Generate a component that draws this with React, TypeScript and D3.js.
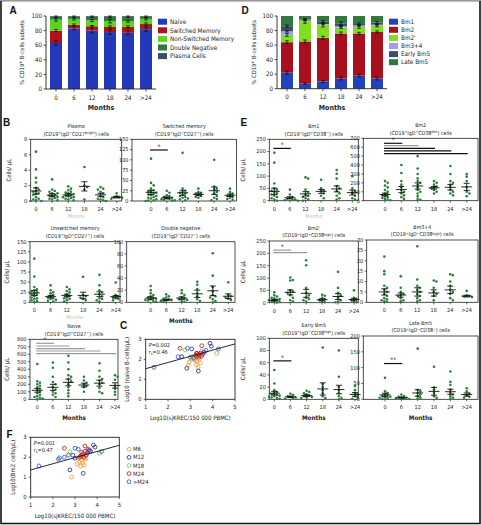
import React from 'react';
import * as d3 from 'd3';

const FONT = "'Liberation Sans Narrow','DejaVu Sans Condensed','Arial Narrow',sans-serif";
const MONTHS = ['0', '6', '12', '18', '24', '>24'];

// ---------- Panel A ----------
const A_SERIES = ['Naive', 'Switched Memory', 'Non-Switched Memory', 'Double Negative', 'Plasma Cells'];
const A_COLORS = ['#2339b7', '#b0121f', '#5fd41c', '#2e7a3a', '#3b4d6f'];
const A_NAIVE = [63, 83, 80, 78, 77, 82];
const A_SWITCHED = [17, 5, 6, 7, 8, 7];
const A_NONSWITCHED = [15, 8, 8, 8, 8, 7];
const A_DOUBLENEG = [4, 3, 5, 6, 6, 3];
const A_PLASMA = [1, 1, 1, 1, 1, 1];
const A_SEM = [
  [3, 2, 3, 3, 3, 3],
  [1.5, 1, 1, 1.5, 1.5, 1.5],
  [2, 1.5, 1.5, 2.5, 1.5, 1.5],
  [1, 1, 1, 1, 1, 1],
];

// ---------- Panel D ----------
const D_SERIES = ['Bm1', 'Bm2', "Bm2'", 'Bm3+4', 'Early Bm5', 'Late Bm5'];
const D_COLORS = ['#2241bd', '#a8101f', '#7fdf1e', '#9c9ff0', '#3c4e6e', '#2f7a3c'];
const D_BM1 = [22, 7, 10, 14, 18, 14];
const D_BM2 = [42, 58, 60, 62, 58, 64];
const D_BM2P = [10, 28, 18, 8, 9, 9];
const D_BM34 = [5, 1, 1, 2, 2, 1];
const D_EARLY = [7, 1, 3, 4, 2, 3];
const D_LATE = [14, 5, 8, 10, 11, 9];
const D_SEM = [
  [2, 1, 1.5, 2, 2, 2],
  [2, 2, 2, 2, 1.5, 1.5],
  [2, 3, 3, 1.5, 2, 2],
  [1, 0.5, 0.5, 1, 1, 0.5],
  [1.5, 1, 1.5, 2, 1.5, 1.5],
];

// ---------- Panel B ----------
const PLASMA_PTS = [
  [6.4, 4.1, 3.0, 2.4, 1.7, 1.5, 1.3, 1.2, 1.0, 0.9, 0.8, 0.5, 0.3, 0.2, 0.1, 0.0, 0.0],
  [2.8, 1.5, 1.3, 1.2, 1.0, 1.0, 0.8, 0.7, 0.6, 0.5, 0.4, 0.3, 0.2, 0.1],
  [1.9, 1.6, 1.4, 1.2, 1.1, 1.0, 0.9, 0.8, 0.7, 0.6, 0.5, 0.5, 0.4, 0.3, 0.2, 0.1],
  [4.4, 2.0, 1.8, 1.5, 0.2],
  [1.8, 1.6, 1.5, 1.2, 1.0, 0.6, 0.5, 0.3, 0.2, 0.1, 0.0],
  [1.0, 0.6, 0.5, 0.5, 0.4, 0.3],
];
const PLASMA_MEAN = [1.3, 0.75, 0.8, 1.9, 0.8, 0.5];
const PLASMA_SEM = [0.4, 0.2, 0.15, 0.6, 0.2, 0.1];

const SWITCHED_PTS = [
  [103, 44, 38, 30, 26, 24, 22, 20, 18, 16, 14, 12, 10, 8, 6, 4, 2, 1, 0],
  [25, 20, 14, 12, 10, 8, 6, 5, 4, 3, 2, 1],
  [117, 30, 25, 22, 20, 18, 15, 12, 10, 8, 6, 4, 2],
  [30, 22, 20, 18, 15, 12, 10, 8],
  [100, 35, 30, 28, 22, 18, 12, 8, 5, 2],
  [30, 22, 18, 15, 12, 10, 8, 5, 3],
];
const SWITCHED_MEAN = [21, 8, 20, 16, 25, 14];
const SWITCHED_SEM = [5, 2, 6, 3, 9, 3];

const UNSWITCHED_PTS = [
  [108, 64, 38, 32, 30, 28, 25, 22, 20, 18, 15, 12, 10, 8, 5, 3, 1],
  [42, 30, 25, 22, 18, 15, 12, 10, 8, 6, 4, 2],
  [38, 32, 28, 25, 20, 15, 12, 10, 8, 5, 2],
  [63, 18, 15, 12, 8, 5],
  [68, 42, 30, 25, 20, 15, 10, 8, 5, 2],
  [49, 18, 15, 12, 10, 8, 5],
];
const UNSWITCHED_MEAN = [23, 14, 17, 17, 20, 14];
const UNSWITCHED_SEM = [6, 3, 3, 8, 6, 3];

const DOUBLENEG_PTS = [
  [27, 20, 15, 12, 10, 8, 7, 6, 5, 4, 3, 2, 1],
  [13, 10, 8, 6, 5, 4, 3, 2, 1],
  [20, 15, 12, 8, 6, 5, 4, 2, 1],
  [34, 29, 22, 15, 10, 5, 2],
  [81, 44, 25, 18, 12, 10, 8, 5, 2, 0],
  [33, 12, 10, 8, 6, 4],
];
const DOUBLENEG_MEAN = [7, 4, 7, 14, 19, 10];
const DOUBLENEG_SEM = [2, 1, 2, 6, 8, 4];

const NAIVE_PTS = [
  [470, 240, 220, 200, 180, 160, 140, 120, 100, 80, 60, 40, 30, 20, 10, 0],
  [490, 420, 300, 230, 200, 160, 130, 100, 80, 60, 30],
  [580, 490, 400, 320, 300, 270, 240, 200, 160, 120, 80, 40],
  [300, 250, 220, 200, 180, 160, 100],
  [480, 380, 300, 270, 250, 220, 200, 150, 100, 80],
  [320, 300, 260, 180, 140, 100, 60],
];
const NAIVE_MEAN = [120, 160, 225, 190, 215, 185];
const NAIVE_SEM = [25, 40, 45, 25, 40, 35];

// ---------- Panel E ----------
const BM1_PTS = [
  [195, 155, 70, 50, 45, 40, 35, 30, 25, 20, 15, 10, 5, 0],
  [45, 25, 15, 10, 8, 5, 3, 2, 0],
  [95, 90, 45, 35, 25, 20, 15, 10, 5, 0],
  [85, 50, 42, 38, 30, 20, 10],
  [125, 110, 90, 60, 50, 40, 30, 20, 10, 5],
  [100, 50, 40, 30, 20, 10, 5],
];
const BM1_MEAN = [38, 12, 28, 38, 48, 33];
const BM1_SEM = [13, 4, 9, 8, 12, 10];

const BM2_PTS = [
  [220, 200, 170, 150, 120, 100, 80, 70, 60, 50, 40, 30, 20, 10, 5],
  [400, 310, 220, 180, 150, 120, 100, 80, 60, 40, 20],
  [500, 360, 300, 250, 220, 200, 180, 150, 120, 100, 80, 50, 20, 10],
  [220, 200, 180, 160, 150, 140, 120, 100, 80],
  [390, 300, 220, 200, 180, 150, 120, 100, 80, 60],
  [300, 270, 220, 150, 100, 80, 50],
];
const BM2_MEAN = [70, 125, 165, 145, 150, 155];
const BM2_SEM = [15, 35, 35, 15, 30, 40];

const BM2P_PTS = [
  [42, 30, 25, 20, 18, 15, 12, 10, 8, 5, 3, 1],
  [102, 92, 90, 50, 45, 40, 30, 20, 10, 5],
  [172, 152, 60, 40, 30, 20, 15, 10, 5],
  [32, 28, 20, 15, 10, 5, 2],
  [125, 60, 40, 30, 20, 10, 5, 2],
  [50, 20, 15, 10, 5, 2],
];
const BM2P_MEAN = [10, 42, 38, 12, 25, 13];
const BM2P_SEM = [3, 10, 16, 4, 12, 5];

const BM34_PTS = [
  [22, 15, 13.5, 8, 7, 6, 5, 4, 3, 2, 1.5, 1, 0.5, 0.2],
  [12.5, 7, 5, 4, 3.5, 3, 2, 1, 0.5],
  [27, 11, 8, 7, 6, 5, 4, 3, 2, 1, 0.5],
  [10.5, 10, 7, 5, 4, 3, 1],
  [13.5, 13, 10, 8, 6, 5, 4, 2, 1],
  [5.5, 3.2, 3, 2.8, 2.5],
];
const BM34_MEAN = [5, 3.5, 5, 4.5, 6, 3];
const BM34_SEM = [1.5, 1, 2, 1.5, 1.8, 0.4];

const EARLY_PTS = [
  [48, 26, 15, 12, 10, 8, 7, 6, 5, 4, 3, 2, 1],
  [9, 7, 5, 4, 3, 2, 1],
  [14, 12, 10, 8, 6, 5, 4, 3, 2],
  [85, 25, 20, 15, 10, 5, 2],
  [80, 37, 20, 15, 10, 5, 2, 0],
  [22, 15, 10, 8, 5, 3, 1],
];
const EARLY_MEAN = [10, 4, 6, 17, 16, 8];
const EARLY_SEM = [3, 1, 1.5, 10, 7, 3];

const LATE_PTS = [
  [68, 25, 20, 15, 12, 10, 8, 6, 5, 3, 1],
  [15, 10, 8, 6, 5, 3, 2, 1],
  [160, 30, 25, 20, 15, 10, 5, 2],
  [103, 38, 30, 20, 10, 5],
  [88, 55, 45, 30, 20, 15, 10, 5, 2],
  [35, 25, 18, 12, 8, 5],
];
const LATE_MEAN = [14, 5, 20, 25, 24, 15];
const LATE_SEM = [5, 1.5, 10, 12, 8, 5];

// ---------- Panels C & F ----------
const GROUPS = ['M6', 'M12', 'M18', 'M24', '>M24'];
const GROUP_COLORS = ['#f0a23a', '#3a2f9c', '#7ccf4c', '#c3262d', '#3d5fd4'];
// [log10 sjKREC, log10 cells, group index]
const C_POINTS: [number, number, number][] = [
  [2.91, 1.71, 0], [3.29, 1.88, 0], [3.25, 1.75, 0], [3.1, 2.13, 0], [3.4, 2.0, 0], [3.35, 1.6, 0], [3.2, 1.95, 0], [3.45, 1.82, 0], [2.95, 1.85, 0],
  [2.61, 2.13, 1], [2.84, 1.55, 1], [3.36, 1.41, 1], [3.88, 2.8, 1], [3.94, 2.65, 1], [3.06, 2.52, 1], [3.3, 2.3, 1], [3.15, 2.05, 1],
  [2.76, 2.47, 2], [4.18, 2.3, 2], [3.06, 2.0, 2], [3.2, 2.15, 2], [3.5, 2.4, 2],
  [2.54, 2.55, 3], [3.51, 2.68, 3], [3.25, 2.2, 3], [3.3, 2.15, 3], [3.35, 2.25, 3], [3.4, 2.2, 3], [3.45, 2.3, 3], [3.5, 2.15, 3], [3.55, 2.25, 3], [3.38, 2.1, 3], [3.6, 2.35, 3], [3.28, 2.3, 3],
  [1.37, 1.6, 4], [2.87, 2.55, 4], [4.26, 2.52, 4], [3.7, 2.45, 4], [3.62, 2.35, 4], [2.45, 2.13, 4], [3.0, 2.1, 4],
];
const C_FIT = [1.22, 0.31];
const F_POINTS: [number, number, number][] = [
  [2.85, 1.0, 0], [3.1, 1.65, 0], [3.2, 1.75, 0], [3.3, 1.85, 0], [3.4, 1.6, 0], [3.45, 1.9, 0], [3.15, 1.95, 0], [3.35, 1.7, 0], [3.25, 1.55, 0], [3.5, 1.95, 0],
  [2.77, 1.36, 1], [3.83, 2.61, 1], [3.9, 2.5, 1], [3.0, 1.95, 1], [3.37, 1.19, 1], [2.9, 2.1, 1], [3.55, 2.2, 1], [3.65, 2.35, 1], [3.7, 2.3, 1],
  [2.77, 2.28, 2], [4.1, 2.2, 2], [3.45, 2.2, 2], [3.3, 2.0, 2],
  [2.52, 2.45, 3], [3.45, 2.56, 3], [3.6, 2.4, 3], [3.25, 2.05, 3], [3.3, 2.1, 3], [3.35, 2.15, 3], [3.4, 2.0, 3], [3.5, 2.1, 3], [3.45, 2.3, 3], [3.3, 2.25, 3], [3.2, 2.0, 3],
  [1.37, 1.56, 4], [2.52, 2.0, 4], [3.0, 2.45, 4], [4.2, 2.28, 4], [2.25, 1.9, 4], [2.3, 1.97, 4], [3.15, 2.4, 4], [3.6, 2.3, 4], [2.7, 2.1, 4],
];
const F_FIT = [1.05, 0.31];

const DOT = '#2d7d3d';

type Sig = { to: number; v: number; color: string; label?: string };

function swarm(vals: number[], y: (v: number) => number, cx: number, r: number) {
  const pts = vals.map((v) => y(v)).sort((a, b) => a - b);
  const placed: { x: number; y: number }[] = [];
  const d = r * 2.05;
  const offs = [0];
  for (let i = 1; i <= 4; i++) offs.push(i * d, -i * d);
  pts.forEach((py, k) => {
    let done = false;
    for (const o of offs) {
      const px = cx + o;
      if (placed.every((q) => (q.x - px) ** 2 + (q.y - py) ** 2 >= d * d * 0.9)) {
        placed.push({ x: px, y: py });
        done = true;
        break;
      }
    }
    if (!done) placed.push({ x: cx + offs[k % offs.length] * 0.5, y: py });
  });
  return placed;
}

function SupText({ x, y, parts, size }: { x: number; y: number; parts: string[]; size: number }) {
  return (
    <text x={x} y={y} textAnchor="middle" fontSize={size} fill="#222">
      {parts.map((p, i) =>
        i % 2 === 1 ? (
          <tspan key={i} dy={-size * 0.35} fontSize={size * 0.7}>{p}</tspan>
        ) : (
          <tspan key={i} dy={i === 0 ? 0 : size * 0.35}>{p}</tspan>
        )
      )}
    </text>
  );
}

function SmallPanel(props: {
  L: number; R: number; T: number; B: number; yMax: number; yStep: number;
  catL: number; catR: number; pts: number[][]; mean: number[]; sem: number[];
  name: string; sub: string[]; sigs?: Sig[]; ylabelX?: number; months?: 'bold' | 'faint';
}) {
  const { L, R, T, B, yMax, yStep, catL, catR, pts, mean, sem, name, sub, sigs, ylabelX, months } = props;
  const y = d3.scaleLinear().domain([0, yMax]).range([B, T]);
  const x = d3.scalePoint<string>().domain(MONTHS).range([catL, catR]);
  const ticks = d3.range(0, yMax + yStep / 2, yStep);
  const cx = (L + R) / 2;
  return (
    <g>
      <text x={cx} y={T - 11.5} textAnchor="middle" fontSize={5.3} fill="#222">{name}</text>
      <SupText x={cx} y={T - 3.6} parts={sub} size={5.3} />
      <rect x={L} y={T} width={R - L} height={B - T} fill="none" stroke="#222" strokeWidth={0.8} />
      {ticks.map((t) => (
        <g key={t}>
          <line x1={L - 2} x2={L} y1={y(t)} y2={y(t)} stroke="#222" strokeWidth={0.7} />
          <text x={L - 3.5} y={y(t) + 1.9} textAnchor="end" fontSize={5.5} fill="#222">{t}</text>
        </g>
      ))}
      {MONTHS.map((m) => (
        <g key={m}>
          <line x1={x(m)} x2={x(m)} y1={B} y2={B + 2} stroke="#222" strokeWidth={0.7} />
          <text x={x(m)} y={B + 10} textAnchor="middle" fontSize={5.5} fill="#222">{m}</text>
        </g>
      ))}
      {pts.map((vals, i) =>
        swarm(vals, y, x(MONTHS[i])!, 1.3).map((p, j) => (
          <circle key={i + '-' + j} cx={p.x} cy={p.y} r={1.3} fill={DOT} />
        ))
      )}
      {mean.map((m, i) => {
        const px = x(MONTHS[i])!;
        return (
          <g key={'m' + i} stroke="#111" strokeWidth={0.9}>
            <line x1={px - 5.5} x2={px + 5.5} y1={y(m)} y2={y(m)} />
            <line x1={px} x2={px} y1={y(m - sem[i])} y2={y(m + sem[i])} />
            <line x1={px - 3} x2={px + 3} y1={y(m - sem[i])} y2={y(m - sem[i])} />
            <line x1={px - 3} x2={px + 3} y1={y(m + sem[i])} y2={y(m + sem[i])} />
          </g>
        );
      })}
      {(sigs || []).map((s, i) => {
        const x0 = x(MONTHS[0])! - 1;
        const x1 = x(MONTHS[s.to])! + 1;
        return (
          <g key={'s' + i}>
            <line x1={x0} x2={x1} y1={y(s.v)} y2={y(s.v)} stroke={s.color} strokeWidth={1.2} />
            {s.label && (
              <text x={(x0 + x1) / 2} y={y(s.v) - 1.2} textAnchor="middle" fontSize={6.5} fill="#222">{s.label}</text>
            )}
          </g>
        );
      })}
      {ylabelX !== undefined && (
        <text transform={`translate(${ylabelX},${(T + B) / 2}) rotate(-90)`} textAnchor="middle" fontSize={6} fill="#222">Cells/ µL</text>
      )}
      {months === 'bold' && (
        <text x={cx} y={B + 21} textAnchor="middle" fontSize={6.3} fontWeight="bold" fill="#222">Months</text>
      )}
      {months === 'faint' && (
        <text x={cx} y={B + 17} textAnchor="middle" fontSize={5} fill="#bbb">Months</text>
      )}
    </g>
  );
}

function StackPanel(props: {
  L: number; R: number; T: number; B: number; series: number[][]; colors: string[]; names: string[];
  sem: number[][]; legX: number; legY: number; legStep: number; ylabelX: number;
}) {
  const { L, R, T, B, series, colors, names, sem, legX, legY, legStep, ylabelX } = props;
  const rows = MONTHS.map((m, i) => {
    const o: any = { m };
    series.forEach((s, k) => (o['s' + k] = s[i]));
    return o;
  });
  const keys = series.map((_, k) => 's' + k);
  const stacked = d3.stack().keys(keys)(rows);
  const x = d3.scaleBand().domain(MONTHS).range([L + 1, R - 1]).paddingInner(0.333).paddingOuter(0.1667);
  const y = d3.scaleLinear().domain([0, 100]).range([B, T]);
  const ticks = [0, 20, 40, 60, 80, 100];
  return (
    <g>
      {stacked.map((layer, k) => (
        <g key={k}>
          {layer.map((d, i) => (
            <rect key={i} x={x(MONTHS[i])} y={y(d[1])} width={x.bandwidth()} height={y(d[0]) - y(d[1])} fill={colors[k]} />
          ))}
        </g>
      ))}
      {stacked.slice(0, sem.length).map((layer, k) => (
        <g key={'e' + k} stroke="#111" strokeWidth={0.8}>
          {layer.map((d, i) => {
            const cx = x(MONTHS[i])! + x.bandwidth() / 2;
            const e = sem[k][i];
            return (
              <g key={i}>
                <line x1={cx} x2={cx} y1={y(d[1] - e)} y2={y(d[1] + e)} />
                <line x1={cx - 1.8} x2={cx + 1.8} y1={y(d[1] - e)} y2={y(d[1] - e)} />
                <line x1={cx - 1.8} x2={cx + 1.8} y1={y(d[1] + e)} y2={y(d[1] + e)} />
              </g>
            );
          })}
        </g>
      ))}
      <line x1={L} x2={L} y1={T} y2={B} stroke="#222" strokeWidth={0.9} />
      <line x1={L} x2={R} y1={B} y2={B} stroke="#222" strokeWidth={0.9} />
      {ticks.map((t) => (
        <g key={t}>
          <line x1={L - 2.5} x2={L} y1={y(t)} y2={y(t)} stroke="#222" strokeWidth={0.8} />
          <text x={L - 4} y={y(t) + 2.2} textAnchor="end" fontSize={6.2} fill="#222">{t}</text>
        </g>
      ))}
      {MONTHS.map((m) => (
        <g key={m}>
          <line x1={x(m)! + x.bandwidth() / 2} x2={x(m)! + x.bandwidth() / 2} y1={B} y2={B + 2.5} stroke="#222" strokeWidth={0.8} />
          <text x={x(m)! + x.bandwidth() / 2} y={B + 10.5} textAnchor="middle" fontSize={6.2} fill="#222">{m}</text>
        </g>
      ))}
      <text x={(L + R) / 2} y={B + 21} textAnchor="middle" fontSize={7} fontWeight="bold" fill="#222">Months</text>
      <text transform={`translate(${ylabelX},${(T + B) / 2}) rotate(-90)`} textAnchor="middle" fontSize={5.8} fill="#222">
        % CD19<tspan dy={-2} fontSize={4}>+</tspan><tspan dy={2}> B-cells subsets</tspan>
      </text>
      {names.map((n, k) => (
        <g key={n}>
          <rect x={legX} y={legY + k * legStep - 3} width={9} height={6} fill={colors[k]} />
          <text x={legX + 12} y={legY + k * legStep + 2.2} fontSize={6.3} fill="#222">{n}</text>
        </g>
      ))}
    </g>
  );
}

function CorrPanel(props: {
  L: number; R: number; T: number; B: number; points: [number, number, number][]; fit: number[];
  pText: string; rText: string; ylabel: string; xlabel: string; ylabelX: number;
}) {
  const { L, R, T, B, points, fit, pText, rText, ylabel, xlabel, ylabelX } = props;
  const x = d3.scaleLinear().domain([1, 5]).range([L, R]);
  const y = d3.scaleLinear().domain([0, 3]).range([B, T]);
  const line = d3.line<number>().x((v) => x(v)).y((v) => y(fit[0] + fit[1] * v));
  return (
    <g>
      <rect x={L} y={T} width={R - L} height={B - T} fill="none" stroke="#222" strokeWidth={0.9} />
      {[0, 1, 2, 3].map((t) => (
        <g key={t}>
          <line x1={L - 2} x2={L} y1={y(t)} y2={y(t)} stroke="#222" strokeWidth={0.7} />
          <text x={L - 4} y={y(t) + 2} textAnchor="end" fontSize={5.8} fill="#222">{t}</text>
        </g>
      ))}
      {[1, 2, 3, 4, 5].map((t) => (
        <g key={t}>
          <line x1={x(t)} x2={x(t)} y1={B} y2={B + 2} stroke="#222" strokeWidth={0.7} />
          <text x={x(t)} y={B + 10} textAnchor="middle" fontSize={5.8} fill="#222">{t}</text>
        </g>
      ))}
      {points.map((p, i) => (
        <circle key={i} cx={x(p[0])} cy={y(p[1])} r={1.9} fill="none" stroke={GROUP_COLORS[p[2]]} strokeWidth={0.9} />
      ))}
      <path d={line([1, 5]) || ''} stroke="#111" strokeWidth={0.9} fill="none" />
      <text x={L + 3} y={T + 7.5} fontSize={5.5} fill="#222"><tspan fontStyle="italic">P</tspan>{pText}</text>
      <text x={L + 3} y={T + 14.5} fontSize={5.5} fill="#222">r<tspan dy={1.2} fontSize={4}>s</tspan><tspan dy={-1.2}>{rText}</tspan></text>
      <text transform={`translate(${ylabelX},${(T + B) / 2}) rotate(-90)`} textAnchor="middle" fontSize={6} fill="#222">{ylabel}</text>
      <text x={(L + R) / 2} y={B + 21} textAnchor="middle" fontSize={6} fill="#222">{xlabel}</text>
    </g>
  );
}

export default function App() {
  return (
    <svg width={481} height={525} style={{ position: 'absolute', left: 0, top: 0, background: '#fff' }} fontFamily={FONT}>
      <rect x={0} y={0} width={481} height={525} fill="#fff" />
      <path d="M0.5,0.5 H480 M1,0.5 V523.5 H480 V0.5" stroke="#111" strokeWidth={1.6} fill="none" />
      <line x1={0} x2={481} y1={0.5} y2={0.5} stroke="#999" strokeWidth={1} />

      <g fontWeight="bold" fontSize={10} fill="#111" fontFamily="'Liberation Sans','Arial',sans-serif">
        <text x={9.5} y={13.5}>A</text>
        <text x={241.5} y={13.5}>D</text>
        <text x={3} y={125.5}>B</text>
        <text x={240.5} y={125.5}>E</text>
        <text x={120} y={328.5}>C</text>
        <text x={6.5} y={437.5}>F</text>
      </g>

      <StackPanel L={46} R={156} T={16} B={89}
        series={[A_NAIVE, A_SWITCHED, A_NONSWITCHED, A_DOUBLENEG, A_PLASMA]}
        colors={A_COLORS} names={A_SERIES} sem={A_SEM}
        legX={158} legY={21.7} legStep={8.6} ylabelX={24} />
      <StackPanel L={277} R={387} T={16} B={88.7}
        series={[D_BM1, D_BM2, D_BM2P, D_BM34, D_EARLY, D_LATE]}
        colors={D_COLORS} names={D_SERIES} sem={D_SEM}
        legX={389} legY={21.7} legStep={8.1} ylabelX={256} />

      <SmallPanel L={30.7} R={121.7} T={139.3} B={201} yMax={8} yStep={2} catL={36} catR={116.7}
        pts={PLASMA_PTS} mean={PLASMA_MEAN} sem={PLASMA_SEM}
        name="Plasma" sub={['(CD19', '+', 'IgD', '−', 'CD27', 'bright', ') cells']} ylabelX={10.5} months="faint" />
      <SmallPanel L={132} R={236.5} T={139.3} B={201} yMax={150} yStep={25} catL={151} catR={230}
        pts={SWITCHED_PTS} mean={SWITCHED_MEAN} sem={SWITCHED_SEM}
        name="Switched memory" sub={['(CD19', '+', 'IgD', '−', 'CD27', '+', ') cells']}
        sigs={[{ to: 1, v: 124, color: '#111', label: '*' }]} />
      <SmallPanel L={30} R={120} T={241.7} B={302.3} yMax={150} yStep={25} catL={34.3} catR={115.7}
        pts={UNSWITCHED_PTS} mean={UNSWITCHED_MEAN} sem={UNSWITCHED_SEM}
        name="Unswitched memory" sub={['(CD19', '+', 'IgD', '+', 'CD27', '+', ') cells']} ylabelX={8.5} months="faint" />
      <SmallPanel L={126.7} R={235} T={241.7} B={302.3} yMax={100} yStep={20} catL={150.7} catR={228.3}
        pts={DOUBLENEG_PTS} mean={DOUBLENEG_MEAN} sem={DOUBLENEG_SEM}
        name="Double negative" sub={['(CD19', '+', 'IgD', '−', 'CD27', '−', ') cells']} months="bold" />
      <SmallPanel L={30} R={118} T={339.3} B={399.3} yMax={800} yStep={100} catL={37.3} catR={115}
        pts={NAIVE_PTS} mean={NAIVE_MEAN} sem={NAIVE_SEM}
        name="Naive" sub={['(CD19', '+', 'IgD', '+', 'CD27', '−', ') cells']} ylabelX={8.5} months="bold"
        sigs={[
          { to: 1, v: 747, color: '#9a9a9a', label: '*' },
          { to: 2, v: 711, color: '#9a9a9a' },
          { to: 3, v: 675, color: '#9a9a9a' },
          { to: 4, v: 644, color: '#9a9a9a' },
          { to: 5, v: 608, color: '#9a9a9a' },
        ]} />

      <CorrPanel L={145.7} R={235} T={339.3} B={399.3} points={C_POINTS} fit={C_FIT}
        pText="=0.002" rText="=0.46" ylabel="Log10 (naive B-cells/µL)" xlabel="Log10(sjKREC/150 000 PBMC)" ylabelX={128.5} />
      <CorrPanel L={30.7} R={119.3} T={437.3} B={497} points={F_POINTS} fit={F_FIT}
        pText="=0.001" rText="=0.47" ylabel="Log10(Bm2 cells/µL)" xlabel="Log10(sjKREC/150 000 PBMC)" ylabelX={15} />
      {GROUPS.map((g, i) => (
        <g key={g}>
          <circle cx={129} cy={449.3 + i * 8.1} r={1.9} fill="none" stroke={GROUP_COLORS[i]} strokeWidth={0.9} />
          <text x={133} y={451.3 + i * 8.1} fontSize={5.8} fill="#222">{g}</text>
        </g>
      ))}

      <SmallPanel L={269.3} R={358.3} T={139.3} B={200.7} yMax={250} yStep={50} catL={274.3} catR={352.3}
        pts={BM1_PTS} mean={BM1_MEAN} sem={BM1_SEM}
        name="Bm1" sub={['(CD19', '+', 'IgD', '+', 'CD38', '−', ') cells']} ylabelX={245} months="faint"
        sigs={[{ to: 1, v: 213, color: '#111', label: '*' }]} />
      <SmallPanel L={363.3} R={478} T={138.3} B={200.7} yMax={700} yStep={100} catL={385} catR={466.7}
        pts={BM2_PTS} mean={BM2_MEAN} sem={BM2_SEM}
        name="Bm2" sub={['(CD19', '+', 'IgD', '+', 'CD38', 'dim', ') cells']}
        sigs={[
          { to: 1, v: 644, color: '#111', label: '*' },
          { to: 2, v: 617, color: '#9a9a9a' },
          { to: 3, v: 588, color: '#111' },
          { to: 4, v: 558, color: '#111' },
          { to: 5, v: 527, color: '#111' },
        ]} />
      <SmallPanel L={269.3} R={358.3} T={241} B={302.7} yMax={250} yStep={50} catL={274.3} catR={354}
        pts={BM2P_PTS} mean={BM2P_MEAN} sem={BM2P_SEM}
        name="Bm2'" sub={['(CD19', '+', 'IgD', '+', 'CD38', 'high', ') cells']} ylabelX={245}
        sigs={[
          { to: 1, v: 213, color: '#9a9a9a', label: '*' },
          { to: 2, v: 203, color: '#9a9a9a' },
        ]} />
      <SmallPanel L={366.7} R={478} T={240} B={302.3} yMax={30} yStep={5} catL={384.3} catR={466.7}
        pts={BM34_PTS} mean={BM34_MEAN} sem={BM34_SEM}
        name="Bm3+4" sub={['(CD19', '+', 'IgD', '−', 'CD38', 'high', ') cells']} />
      <SmallPanel L={269.3} R={358.3} T={338.3} B={399.3} yMax={100} yStep={20} catL={274.3} catR={355}
        pts={EARLY_PTS} mean={EARLY_MEAN} sem={EARLY_SEM}
        name="Early Bm5" sub={['(CD19', '+', 'IgD', '−', 'CD38', 'high', ') cells']} ylabelX={245} months="bold"
        sigs={[{ to: 1, v: 63, color: '#111', label: '*' }]} />
      <SmallPanel L={363.3} R={478} T={336} B={399.3} yMax={200} yStep={50} catL={385} catR={466.7}
        pts={LATE_PTS} mean={LATE_MEAN} sem={LATE_SEM}
        name="Late Bm5" sub={['(CD19', '+', 'IgD', '−', 'CD38', '−', ') cells']} months="bold"
        sigs={[{ to: 1, v: 113, color: '#111', label: '**' }]} />
    </svg>
  );
}
